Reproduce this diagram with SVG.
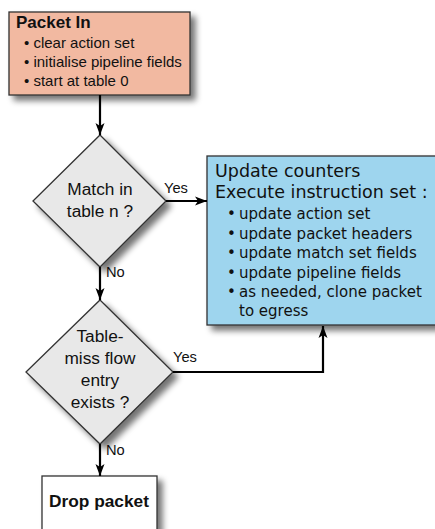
<svg xmlns="http://www.w3.org/2000/svg" width="435" height="529" viewBox="0 0 435 529">
<defs>
<filter id="sh" x="-20%" y="-20%" width="150%" height="150%">
<feGaussianBlur in="SourceAlpha" stdDeviation="3"/>
<feOffset dx="5" dy="5" result="b"/>
<feComponentTransfer><feFuncA type="linear" slope="0.55"/></feComponentTransfer>
<feMerge><feMergeNode/><feMergeNode in="SourceGraphic"/></feMerge>
</filter>
<marker id="ah" markerUnits="userSpaceOnUse" markerWidth="12" markerHeight="16" viewBox="0 0 16 12" refX="16" refY="6" orient="auto">
<path d="M0,0 L16,6 L0,12 L4,6 Z" fill="#000"/>
</marker>
</defs>
<style>
.box{stroke:#333;stroke-width:1.3}
.ar{font-family:"Liberation Sans",Arial,sans-serif;fill:#111}
.dv{font-family:"DejaVu Sans",Verdana,sans-serif;fill:#111}
.c{fill:none;stroke:#000;stroke-width:2.2;marker-end:url(#ah)}
</style>
<rect width="435" height="529" fill="#fff"/>
<g id="packet-in">
<rect class="box" x="9" y="12" width="181" height="83" fill="#f2b9a1" filter="url(#sh)"/>
<text class="ar" x="16" y="27.5" font-size="17" font-weight="bold">Packet In</text>
<text class="ar" x="24" y="48" font-size="15">• clear action set</text>
<text class="ar" x="24" y="67" font-size="15">• initialise pipeline fields</text>
<text class="ar" x="24" y="86" font-size="15">• start at table 0</text>
</g>
<g id="match">
<polygon class="box" points="100,135 166,201 100,267 33,201" fill="#e8e8e8" filter="url(#sh)"/>
<text class="ar" x="100" y="195" font-size="17.3" text-anchor="middle">Match in</text>
<text class="ar" x="100" y="217" font-size="17.3" text-anchor="middle">table n ?</text>
</g>
<g id="update">
<rect class="box" x="207" y="156" width="240" height="169" fill="#9ed5ee" filter="url(#sh)"/>
<text class="dv" x="215" y="177" font-size="17.5">Update counters</text>
<text class="dv" x="215" y="198" font-size="17.5">Execute instruction set :</text>
<g font-size="15" class="dv">
<text class="dv" x="227" y="219">•</text><text class="dv" x="239" y="219">update action set</text>
<text class="dv" x="227" y="239">•</text><text class="dv" x="239" y="239">update packet headers</text>
<text class="dv" x="227" y="258">•</text><text class="dv" x="239" y="258">update match set fields</text>
<text class="dv" x="227" y="278">•</text><text class="dv" x="239" y="278">update pipeline fields</text>
<text class="dv" x="227" y="297">•</text><text class="dv" x="239" y="297">as needed, clone packet</text>
<text class="dv" x="239" y="316">to egress</text>
</g>
</g>
<g id="table-miss">
<polygon class="box" points="100,300 173,372 100,444 26,372" fill="#e8e8e8" filter="url(#sh)"/>
<text class="ar" x="100" y="342" font-size="17.3" text-anchor="middle">Table-</text>
<text class="ar" x="100" y="364" font-size="17.3" text-anchor="middle">miss flow</text>
<text class="ar" x="100" y="386" font-size="17.3" text-anchor="middle">entry</text>
<text class="ar" x="100" y="408" font-size="17.3" text-anchor="middle">exists ?</text>
</g>
<g id="drop">
<rect class="box" x="42" y="476" width="115" height="70" fill="#fff" filter="url(#sh)"/>
<text class="ar" x="99" y="507" font-size="17.3" font-weight="bold" text-anchor="middle">Drop packet</text>
</g>
<g id="connectors">
<path class="c" d="M100,95 L100,135"/>
<path class="c" d="M166,201 L207,201"/>
<path class="c" d="M100,267 L100,300"/>
<path class="c" d="M173,372 L323,372 L323,326"/>
<path class="c" d="M100,444 L100,476"/>
<text class="ar" x="164" y="193" font-size="14.7">Yes</text>
<text class="ar" x="106" y="277" font-size="14.7">No</text>
<text class="ar" x="173" y="362" font-size="14.7">Yes</text>
<text class="ar" x="106" y="455" font-size="14.7">No</text>
</g>
</svg>
